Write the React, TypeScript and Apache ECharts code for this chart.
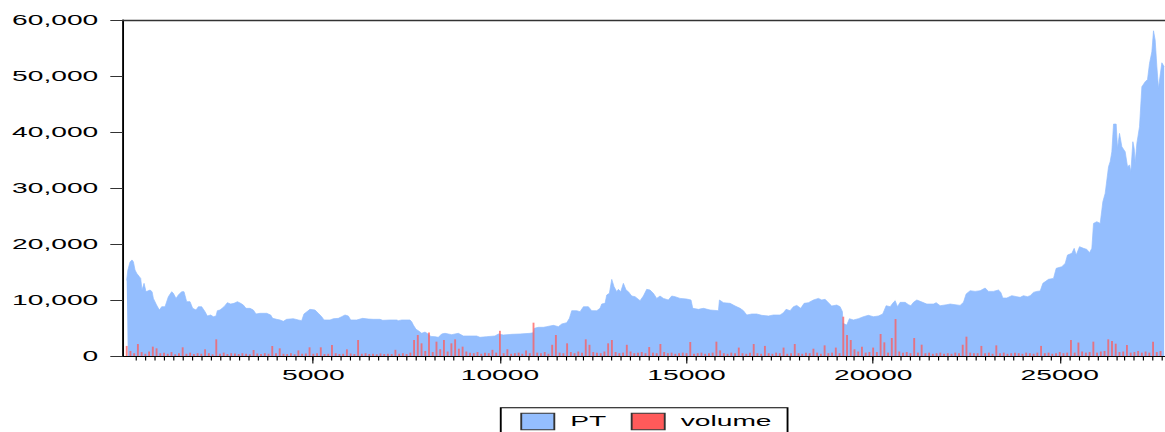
import React, { useEffect, useRef } from "react";
import * as echarts from "echarts";

// PT series: [observation, value]
const ptPoints: [number, number][] = [
  [0, 13500], [30, 15300], [90, 16800], [143, 17150], [180, 16800], [223, 15350], [268, 14760], [340, 14160],
  [375, 13860], [410, 11780], [465, 12970], [518, 11480], [625, 11780], [680, 11480], [715, 10290], [800, 9100],
  [875, 8210], [938, 8800], [1027, 8800], [1116, 10590], [1206, 11480], [1250, 11190], [1322, 10290], [1384, 10890],
  [1473, 11480], [1536, 11480], [1607, 9700], [1697, 9700], [1768, 8510], [1857, 8210], [1920, 8800], [2009, 8800],
  [2099, 7910], [2161, 7140], [2250, 7320], [2322, 7020], [2393, 7140], [2429, 8090], [2500, 8210], [2608, 8800],
  [2697, 9520], [2786, 9280], [2876, 9400], [2965, 9700], [3054, 9400], [3125, 9100], [3197, 8510], [3304, 8510],
  [3393, 8210], [3465, 7500], [3572, 7620], [3750, 7620], [3858, 7320], [3911, 6720], [4018, 6550], [4108, 6430],
  [4197, 6190], [4286, 6550], [4465, 6660], [4599, 6430], [4688, 6310], [4750, 7500], [4911, 8330], [5045, 8210],
  [5135, 7620], [5225, 7020], [5287, 6430], [5448, 6430], [5537, 6660], [5671, 6720], [5760, 7020], [5850, 7320],
  [5939, 7140], [6001, 6430], [6162, 6430], [6323, 6720], [6475, 6600], [6609, 6550], [6787, 6550], [6859, 6370],
  [7055, 6430], [7234, 6430], [7279, 6310], [7368, 6430], [7591, 6430], [7636, 6130], [7680, 5530], [7752, 4760],
  [7814, 4520], [7904, 4050], [7993, 4280], [8082, 3900], [8150, 3500], [8261, 3450], [8350, 3330], [8439, 3930],
  [8529, 4050], [8618, 3930], [8707, 3810], [8886, 4050], [9020, 3570], [9198, 3570], [9377, 3570], [9466, 3330],
  [9645, 3450], [9868, 3570], [9957, 3930], [10091, 3750], [10317, 3870], [10540, 3930], [10808, 4050], [10897, 4160],
  [10924, 4940], [11031, 5120], [11165, 5120], [11254, 5240], [11433, 5470], [11567, 5240], [11656, 5710], [11790, 5950],
  [11862, 6720], [11924, 8090], [12058, 8090], [12147, 7910], [12237, 8800], [12370, 8800], [12460, 8090], [12594, 8090],
  [12683, 8510], [12728, 9280], [12817, 9400], [12862, 10890], [12933, 11190], [12996, 13680], [13058, 12380], [13130, 11480],
  [13174, 11900], [13237, 11480], [13308, 12970], [13380, 11780], [13442, 11480], [13531, 10710], [13621, 10590], [13755, 9880],
  [13844, 10710], [13933, 11900], [14022, 11780], [14112, 11190], [14201, 10290], [14290, 10710], [14380, 10290], [14513, 10000],
  [14603, 10710], [14692, 10590], [14826, 10290], [15005, 10170], [15120, 10000], [15167, 8510], [15319, 8330], [15453, 8510],
  [15632, 8210], [15855, 8090], [15882, 10000], [15989, 9520], [16168, 9400], [16302, 8930], [16436, 8510], [16525, 8090],
  [16614, 7320], [16748, 7500], [16882, 7500], [17016, 7260], [17195, 7140], [17329, 7320], [17507, 7320], [17597, 7740],
  [17668, 8330], [17775, 8090], [17864, 8800], [17954, 9040], [18061, 8510], [18150, 9400], [18266, 9520], [18400, 10000],
  [18534, 10290], [18623, 10000], [18713, 10120], [18802, 9520], [18891, 8930], [19025, 9100], [19115, 8800], [19177, 7910],
  [19190, 5830], [19293, 5530], [19364, 6660], [19472, 6430], [19605, 6660], [19739, 7020], [19873, 7260], [20007, 7020],
  [20141, 7140], [20257, 7500], [20349, 8980], [20456, 8800], [20545, 9580], [20590, 9880], [20652, 8800], [20724, 9580],
  [20858, 9580], [20947, 9160], [21010, 8980], [21081, 9580], [21170, 10000], [21260, 9760], [21438, 9280], [21617, 9280],
  [21688, 9520], [21795, 8980], [21974, 9160], [22063, 9280], [22197, 9160], [22331, 9040], [22420, 9580], [22492, 11070],
  [22599, 11660], [22733, 11540], [22867, 11660], [23001, 12140], [23090, 11540], [23224, 11540], [23358, 11780], [23421, 11360],
  [23474, 10350], [23581, 10350], [23715, 10770], [23849, 10590], [23939, 10470], [24028, 10770], [24135, 10590], [24207, 10770],
  [24296, 11360], [24385, 11540], [24476, 11600], [24547, 12970], [24699, 13690], [24833, 13860], [24905, 15650], [25056, 15950],
  [25146, 16540], [25208, 18030], [25324, 18330], [25387, 19220], [25440, 18030], [25530, 19520], [25637, 19220], [25726, 19040],
  [25798, 18450], [25860, 19220], [25905, 23680], [25994, 23980], [26084, 23680], [26155, 27550], [26217, 29040], [26307, 33800],
  [26351, 34700], [26396, 36470], [26441, 41410], [26512, 41410], [26548, 37070], [26601, 39750], [26664, 37370], [26753, 36470],
  [26816, 33800], [26869, 34100], [26905, 32900], [26959, 38260], [26994, 37070], [27021, 34510], [27066, 37960], [27137, 40940],
  [27200, 48080], [27289, 48970], [27352, 49390], [27405, 52240], [27468, 54320], [27512, 58070], [27557, 56400], [27602, 51650],
  [27646, 47780], [27691, 50160], [27736, 52360], [27798, 51650],
];

// volume: one value per 100 observations, starting at observation 0
const volumeStep = 100;
const volumeValues = [
  1800, 900, 500, 2140, 700, 400, 800, 1670, 1370, 500,
  600, 400, 700, 300, 500, 1550, 400, 600, 350, 500,
  400, 1190, 500, 300, 2975, 400, 600, 350, 500, 450,
  350, 500, 400, 300, 1070, 450, 350, 500, 400, 1785,
  500, 1370, 400, 350, 500, 300, 1000, 400, 450, 1550,
  400, 500, 1550, 350, 400, 1960, 500, 350, 400, 1190,
  450, 350, 2860, 400, 500, 350, 400, 300, 450, 350,
  400, 350, 1100, 400, 500, 350, 600, 2860, 3750, 2260,
  900, 4200, 700, 2560, 1200, 2860, 800, 2260, 2975, 1300,
  1670, 800, 600, 500, 700, 400, 600, 500, 1100, 600,
  4500, 500, 1200, 400, 500, 600, 400, 1000, 500, 5950,
  600, 500, 700, 400, 2000, 3750, 600, 500, 2260, 700,
  500, 800, 600, 2975, 2000, 700, 600, 500, 800, 2260,
  2860, 700, 500, 600, 2000, 800, 500, 600, 700, 500,
  1600, 600, 500, 2140, 700, 500, 600, 400, 500, 600,
  500, 2500, 400, 500, 600, 400, 500, 600, 2560, 1000,
  500, 400, 600, 500, 1500, 500, 400, 600, 2140, 500,
  400, 1800, 500, 400, 600, 500, 1500, 400, 500, 2140,
  500, 400, 600, 500, 1300, 600, 400, 1900, 500, 600,
  1500, 500, 7020, 3750, 2860, 1200, 800, 1670, 600, 700,
  1500, 700, 3930, 2440, 600, 3210, 6600, 800, 600, 700,
  500, 3210, 600, 2020, 500, 600, 400, 500, 600, 400,
  500, 400, 600, 500, 2000, 3450, 600, 500, 500, 1800,
  500, 600, 400, 1900, 500, 600, 400, 500, 600, 500,
  400, 600, 500, 400, 600, 1800, 500, 600, 400, 500,
  700, 500, 600, 2860, 600, 2400, 800, 600, 700, 2560,
  600, 800, 900, 2975, 2700, 2200, 700, 800, 1960, 600,
  700, 900, 600, 800, 600, 2560, 700, 900,
];

const yTickValues = [0, 10000, 20000, 30000, 40000, 50000, 60000];
const xLabelValues = [5000, 10000, 15000, 20000, 25000];
const xMinorTickStep = 250;
const xMin = -107;
const xMax = 27820;

const PT_COLOR = "#94BEFE";
const VOL_COLOR = "#FF5A5A";
const FONT = "'Liberation Sans', Arial, sans-serif";

const PRE_W = 620;
const H = 432;
const SX = 1165 / PRE_W;

export default function App() {
  const ref = useRef<HTMLDivElement>(null);

  useEffect(() => {
    document.body.style.margin = "0";
    document.body.style.overflow = "hidden";
    const chart = echarts.init(ref.current!, null, { renderer: "svg" });

    const minorTicks: number[] = [];
    for (let v = xMinorTickStep; v < xMax; v += xMinorTickStep) minorTicks.push(v);

    const volumeData = volumeValues.map((v, i) => [i * volumeStep, v]);

    const option: any = {
      animation: false,
      backgroundColor: "#ffffff",
      grid: { left: 65.3, right: 0, top: 20, bottom: 76, containLabel: false },
      legend: {
        left: 266.5,
        top: 407.7,
        orient: "horizontal",
        padding: [5, 8.5, 5, 10.4],
        borderColor: "#000",
        borderWidth: 1,
        itemWidth: 17.6,
        itemHeight: 16.6,
        itemGap: 13,
        textStyle: { fontFamily: FONT, fontSize: 15, color: "#000", padding: [0, 0, 0, 3.5] },
        itemStyle: { borderColor: "#333", borderWidth: 1, opacity: 1 },
        data: [
          { name: "PT", icon: "rect", itemStyle: { color: PT_COLOR, borderColor: "#333", borderWidth: 1, opacity: 1 } },
          { name: "volume", icon: "rect", itemStyle: { color: VOL_COLOR, borderColor: "#333", borderWidth: 1, opacity: 1 } },
        ],
      },
      xAxis: [
        {
          type: "value",
          min: xMin,
          max: xMax,
          position: "bottom",
          axisLine: { show: true, onZero: false, lineStyle: { color: "#000", width: 1.2 } },
          axisTick: { show: true, customValues: minorTicks, length: 4.5, inside: false, lineStyle: { color: "#000", width: 0.6 } },
          axisLabel: { show: false },
          splitLine: { show: false },
        },
        {
          type: "value",
          min: xMin,
          max: xMax,
          position: "bottom",
          axisLine: { show: false, onZero: false },
          axisTick: { show: true, customValues: xLabelValues, length: 7.5, inside: false, lineStyle: { color: "#000", width: 0.6 } },
          axisLabel: {
            show: true,
            customValues: xLabelValues,
            margin: 12,
            fontFamily: FONT,
            fontSize: 15,
            color: "#000",
            formatter: (v: number) => String(v),
          },
          splitLine: { show: false },
        },
        {
          type: "value",
          min: xMin,
          max: xMax,
          position: "top",
          axisLine: { show: true, onZero: false, lineStyle: { color: "#333", width: 1.3 } },
          axisTick: { show: false },
          axisLabel: { show: false },
          splitLine: { show: false },
        },
      ],
      yAxis: {
        type: "value",
        min: 0,
        max: 60000,
        interval: 10000,
        axisLine: { show: true, onZero: false, lineStyle: { color: "#000", width: 1 } },
        axisTick: { show: true, length: 6.6, inside: false, lineStyle: { color: "#333", width: 1 } },
        axisLabel: {
          show: true,
          margin: 13,
          fontFamily: FONT,
          fontSize: 15,
          color: "#000",
          padding: [0, 0, 9, 0],
          formatter: (v: number) => (yTickValues.includes(v) ? v.toLocaleString("en-US") : ""),
        },
        splitLine: { show: false },
      },
      series: [
        {
          name: "PT",
          type: "line",
          xAxisIndex: 0,
          data: ptPoints,
          symbol: "none",
          color: PT_COLOR,
          lineStyle: { width: 0.5, color: PT_COLOR },
          areaStyle: { color: PT_COLOR, opacity: 1 },
          z: 2,
        },
        {
          name: "volume",
          type: "bar",
          xAxisIndex: 0,
          data: volumeData,
          barWidth: 1,
          color: VOL_COLOR,
          itemStyle: { color: VOL_COLOR, opacity: 0.75 },
          z: 3,
        },
      ],
    };

    chart.setOption(option);
    return () => chart.dispose();
  }, []);

  return (
    <div
      ref={ref}
      style={{
        position: "absolute",
        left: 0,
        top: 0,
        width: PRE_W,
        height: H,
        transform: `scaleX(${SX})`,
        transformOrigin: "0 0",
      }}
    />
  );
}
